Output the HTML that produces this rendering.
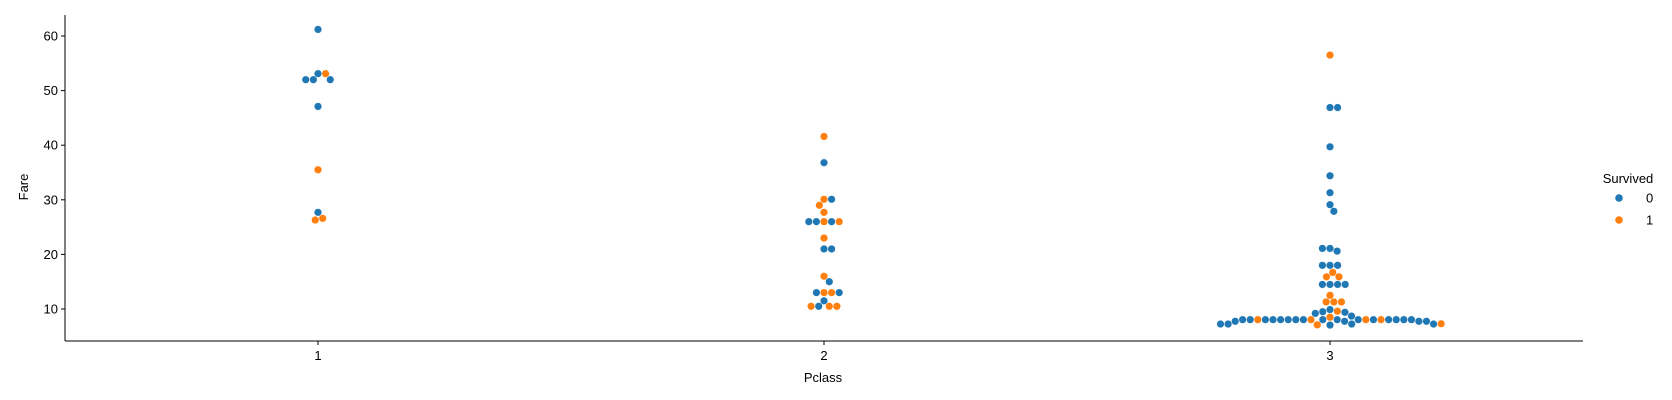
<!DOCTYPE html>
<html><head><meta charset="utf-8"><style>
body{margin:0;background:#fff;}
svg{display:block;font-family:"Liberation Sans","DejaVu Sans",sans-serif;}
</style></head><body>
<svg id="chart" width="1672" height="400"></svg>
<script>
const categories=[1,2,3];
const yTicks=[10,20,30,40,50,60];
const class1Fares=[61.2,53.1,53.1,52,52,52,47.1,35.5,27.7,26.6,26.3];
const class1Surv=[0,0,1,0,0,0,0,1,0,1,1];
const class2Fares=[41.6,36.8,30.1,30.1,29,27.7,26,26,26,26,26,23,21,21,16,15,13,13,13,13,11.5,10.5,10.5,10.5,10.5];
const class2Surv=[1,0,1,0,1,1,1,0,0,1,0,1,0,0,1,0,1,1,0,0,0,1,0,1,1];
const class3Fares=[56.5,46.9,46.9,39.7,34.4,31.3,29.1,27.9,21.1,20.6,21.1,18,18,18,16.7,15.9,15.9,14.5,14.5,14.5,14.5,12.5,11.3,11.3,11.3,9.9,9.6,9.5,9.2,9.4,8.7,8.5,
8.05,8.05,8.05,8.05,8.05,8.05,8.05,8.05,8.05,8.05,8.05,8.05,8.05,8.05,8.05,8.05,8.05,8.05,8.05,8.05,
7.75,7.75,7.75,7.75,7.25,7.25,7.25,7.25,7.05,7.1,7.3];
const class3Surv=[1,0,0,0,0,0,0,0,0,0,0,0,0,0,1,1,1,0,0,0,0,1,1,1,1,0,1,0,0,0,0,1,
0,0,1,0,0,0,1,0,0,0,1,0,0,0,0,1,0,0,0,0,
0,0,0,0,0,0,0,0,0,1,1];
const legendLabels=["0","1"];

const NS="http://www.w3.org/2000/svg";
const svg=document.getElementById('chart');
const L=65,R=1583,T=15,B=341;
const colors=["#1f77b4","#ff7f0e"];
function xPos(c){return 318+(c-1)*506;}
function yScale(v){return 309-(v-10)*(309-36)/50;}
function mk(tag,attrs){const e=document.createElementNS(NS,tag);for(const k in attrs)e.setAttribute(k,attrs[k]);svg.appendChild(e);return e;}

let ax=mk('line',{x1:L,y1:T,x2:L,y2:B,stroke:'#000','stroke-width':1});


ax=mk('line',{x1:L,y1:B,x2:R,y2:B,stroke:'#000','stroke-width':1});



yTicks.forEach(v=>{
  const y=yScale(v);
  const t=mk('line',{x1:L-4,y1:y,x2:L,y2:y,stroke:'#000'});
  
  
  const tx=mk('text',{x:L-7,y:y+4.5,'text-anchor':'end','font-size':13});
  tx.textContent=v;
  
  
});
categories.forEach(c=>{
  const x=xPos(c);
  const t=mk('line',{x1:x,y1:B,x2:x,y2:B+4,stroke:'#000'});
  
  
  const tx=mk('text',{x:x,y:B+19,'text-anchor':'middle','font-size':13});
  tx.textContent=c;
  
  
});
let lab=mk('text',{x:823,y:382,'text-anchor':'middle','font-size':13});
lab.textContent='Pclass';


lab=mk('text',{x:0,y:0,'text-anchor':'middle','font-size':13,transform:'translate(28,187) rotate(-90)'});
lab.textContent='Fare';



const D=7.6;
function swarm(c,fares,surv){
  const cx=xPos(c);
  const pts=fares.map((f,i)=>({f,s:surv[i],y:yScale(f)}));
  const placed=[];
  pts.forEach(p=>{
    const cands=[0];
    placed.forEach(q=>{const dy=p.y-q.y;if(Math.abs(dy)<D){const dx=Math.sqrt(D*D-dy*dy);cands.push(q.x+dx,q.x-dx);}});
    cands.sort((a,b)=>Math.abs(a)-Math.abs(b));
    let best=0;
    for(const cand of cands){
      if(placed.every(q=>(q.x-cand)**2+(q.y-p.y)**2>=D*D-0.01)){best=cand;break;}
    }
    p.x=best;placed.push(p);
  });
  placed.forEach(p=>{
    const d=mk('circle',{cx:cx+p.x,cy:p.y,r:3.8,fill:colors[p.s],stroke:'#fff','stroke-width':0.4});
    
    
  });
}
swarm(1,class1Fares,class1Surv);
swarm(2,class2Fares,class2Surv);
swarm(3,class3Fares,class3Surv);

lab=mk('text',{x:1628,y:183,'text-anchor':'middle','font-size':13});
lab.textContent='Survived';


legendLabels.forEach((l,i)=>{
  const y=198+i*22;
  const m=mk('circle',{cx:1619,cy:y,r:3.8,fill:colors[i]});
  
  
  const t=mk('text',{x:1646,y:y+4.5,'font-size':13});
  t.textContent=l;
  
  
});
</script>
</body></html>
